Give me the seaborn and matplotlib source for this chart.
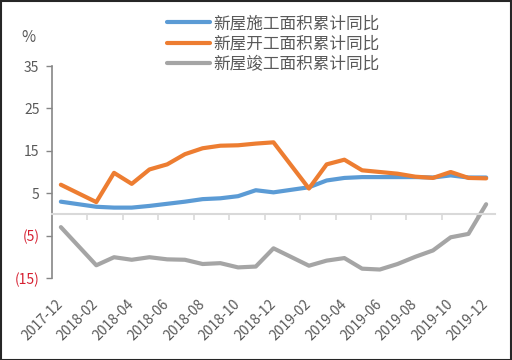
import numpy as np
import pandas as pd
import matplotlib
matplotlib.use("Agg")
import matplotlib.pyplot as plt
import seaborn as sns
from matplotlib.patches import Rectangle

# ---------------- data ----------------
months = ["2017-12", "2018-02", "2018-03", "2018-04", "2018-05", "2018-06", "2018-07",
          "2018-08", "2018-09", "2018-10", "2018-11", "2018-12",
          "2019-02", "2019-03", "2019-04", "2019-05", "2019-06", "2019-07",
          "2019-08", "2019-09", "2019-10", "2019-11", "2019-12"]
under_construction = [3.0, 1.8, 1.6, 1.6, 2.0, 2.5, 3.0, 3.6, 3.8, 4.3, 5.7, 5.2,
                      6.4, 8.0, 8.6, 8.8, 8.8, 8.8, 8.8, 8.7, 9.2, 8.7, 8.7]
new_starts = [7.0, 2.9, 9.8, 7.2, 10.6, 11.8, 14.2, 15.6, 16.2, 16.3, 16.7, 17.0,
              6.1, 11.8, 12.9, 10.4, 10.0, 9.6, 8.9, 8.6, 10.0, 8.6, 8.5]
completed = [-3.0, -12.0, -10.1, -10.7, -10.1, -10.6, -10.7, -11.7, -11.5, -12.5, -12.3, -8.0,
             -12.1, -10.9, -10.3, -12.8, -13.0, -11.7, -10.0, -8.5, -5.4, -4.6, 2.4]
series_names = ["新屋施工面积累计同比", "新屋开工面积累计同比", "新屋竣工面积累计同比"]
x_tick_labels = ["2017-12", "2018-02", "2018-04", "2018-06", "2018-08", "2018-10", "2018-12",
                 "2019-02", "2019-04", "2019-06", "2019-08", "2019-10", "2019-12"]
y_ticks = [35, 25, 15, 5, -5, -15]
y_tick_labels = ["35", "25", "15", "5", "(5)", "(15)"]
unit_label = "%"

colors = ["#5B9BD5", "#ED7D31", "#A5A5A5"]

def month_index(s):
    d = pd.to_datetime(pd.Series(s))
    return ((d.dt.year - 2017) * 12 + d.dt.month - 12).to_numpy()

xpos = month_index(months)
df = pd.DataFrame({
    "x": np.tile(xpos, 3),
    "value": under_construction + new_starts + completed,
    "series": np.repeat(series_names, len(months)),
})

# ---------------- style ----------------
sns.set_theme(style="white")
plt.rcParams["font.family"] = ["Noto Sans CJK SC", "DejaVu Sans"]

fig = plt.figure(figsize=(5.12, 3.6), dpi=100)
ax = fig.add_axes([52 / 512, 1 - 278 / 360, (495 - 52) / 512, (278 - 66) / 360])

sns.lineplot(data=df, x="x", y="value", hue="series", hue_order=series_names,
             palette=colors, linewidth=3.0, ax=ax, legend=True, sort=True)

ax.set_xlim(-0.5, 24.5)
ax.set_ylim(-15, 35)
ax.set_xlabel("")
ax.set_ylabel("")

# y axis
ax.set_yticks(y_ticks)
ax.set_yticklabels(y_tick_labels)
ax.tick_params(axis="y", direction="out", length=4, width=1, color="#868686",
               labelsize=10, pad=5, left=True)
for lab, v in zip(ax.get_yticklabels(), y_ticks):
    lab.set_color("#D62031" if v < 0 else "#595959")
ax.spines["left"].set_color("#868686")
ax.spines["left"].set_linewidth(1.2)
for s in ["top", "right"]:
    ax.spines[s].set_visible(False)

# x axis line at zero with boundary ticks
ax.spines["bottom"].set_position(("data", 0))
ax.spines["bottom"].set_color("#D9D9D9")
ax.spines["bottom"].set_linewidth(1.5)
boundaries = np.arange(1.5, 24.5, 2.0)
ax.set_xticks(boundaries)
ax.set_xticklabels([""] * len(boundaries))
ax.tick_params(axis="x", direction="out", length=4, width=1.2, color="#D9D9D9", bottom=True)

# labels at bottom
sec = ax.secondary_xaxis(0)
sec.set_xticks(month_index(x_tick_labels))
sec.set_xticklabels(x_tick_labels, rotation=45, ha="right", rotation_mode="anchor",
                    va="center", color="#595959", fontsize=10)
sec.tick_params(axis="x", length=0, pad=17)
sec.spines["bottom"].set_visible(False)

# legend
handles, labels = ax.get_legend_handles_labels()
ax.get_legend().remove()
fig.legend(handles, labels, loc="center", bbox_to_anchor=(273 / 512, 1 - 44 / 360),
           frameon=False, fontsize=12, handlelength=2.6, handletextpad=0.2,
           labelspacing=0.2, labelcolor="#595959")

# unit label
fig.text(28 / 512, 1 - 38 / 360, unit_label, ha="center", va="center",
         fontsize=11, color="#595959")

# figure border
fig.patches.append(Rectangle((0.001, 0.001), 0.997, 0.996, transform=fig.transFigure,
                             fill=False, edgecolor="#262626", linewidth=1.5))

fig.savefig("out.png", dpi=100)
